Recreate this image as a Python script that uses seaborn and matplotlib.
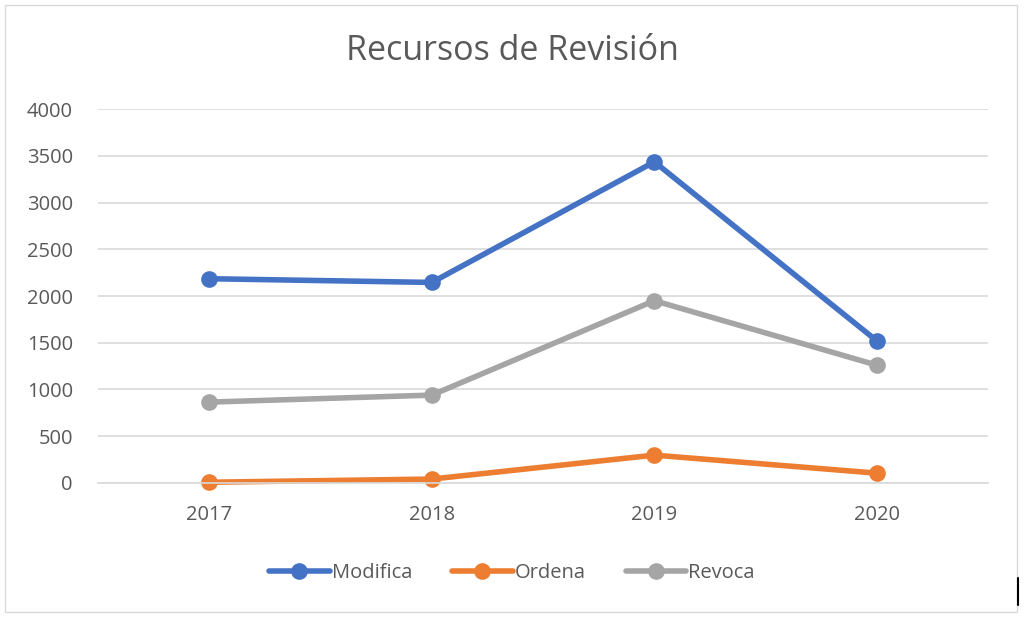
import pandas as pd
import matplotlib.pyplot as plt
import seaborn as sns
from matplotlib.patches import Rectangle
from matplotlib.lines import Line2D

# --- data ---
years = ["2017", "2018", "2019", "2020"]
modifica = [2185, 2145, 3435, 1520]
ordena = [8, 42, 298, 105]
revoca = [865, 940, 1950, 1260]

series_names = ["Modifica", "Ordena", "Revoca"]
colors = ["#4472C4", "#ED7D31", "#A5A5A5"]

df = pd.DataFrame({
    "year": years * 3,
    "value": modifica + ordena + revoca,
    "serie": [n for n in series_names for _ in years],
})

sns.set_theme(style="white")
plt.rcParams["font.family"] = ["Open Sans", "DejaVu Sans"]

fig = plt.figure(figsize=(10.24, 6.17), dpi=100)
ax = fig.add_axes([0.0957, 0.2172, 0.8693, 0.6061])

sns.lineplot(data=df, x="year", y="value", hue="serie", palette=colors,
             marker="o", markersize=12, markeredgewidth=0, linewidth=4,
             sort=False, ax=ax, legend=False)
for ln in ax.lines:
    ln.set_clip_on(False)
    ln.set_solid_capstyle("round")

ax.set_xlim(-0.5, 3.5)
ax.set_ylim(0, 4000)
ax.set_yticks(range(0, 4001, 500))
ax.grid(axis="y", color="#D9D9D9", linewidth=1.2)
ax.set_axisbelow(True)
for s in ["top", "right", "left"]:
    ax.spines[s].set_visible(False)
ax.spines["bottom"].set_color("#D9D9D9")
ax.spines["bottom"].set_linewidth(1.2)
ax.tick_params(axis="both", length=0, labelsize=14.5, colors="#595959")
ax.tick_params(axis="x", pad=16)
ax.tick_params(axis="y", pad=18)
ax.set_xlabel("")
ax.set_ylabel("")

fig.text(0.5, 0.918, "Recursos de Revisión", ha="center", va="center",
         fontsize=24.5, color="#595959")

handles = [Line2D([0], [0], color=c, linewidth=4, marker="o", markersize=12,
                  markeredgewidth=0) for c in colors]
fig.legend(handles, series_names, loc="center", bbox_to_anchor=(0.5, 0.072),
           ncol=3, frameon=False, fontsize=14.5, labelcolor="#595959",
           handlelength=3.0, handletextpad=0.1, columnspacing=2.0)

# chart border and the stray mark at the lower right
fig.patches.append(Rectangle((0.005, 0.008), 0.988, 0.984, transform=fig.transFigure,
                             fill=False, edgecolor="#D9D9D9", linewidth=1))
fig.lines.append(Line2D([0.9945, 0.9945], [0.02, 0.063], transform=fig.transFigure,
                        color="black", linewidth=1.5))

fig.savefig("out.png", dpi=100, facecolor="white")
